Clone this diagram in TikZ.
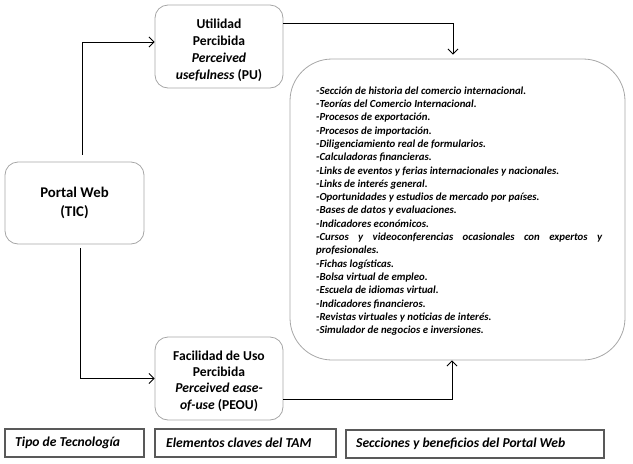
\documentclass[tikz,border=0pt]{standalone}
\usepackage{fontspec}
\setmainfont{Carlito}
\usetikzlibrary{arrows.meta,calc}
\definecolor{softgray}{HTML}{A6A6A6}
\definecolor{darkgray}{HTML}{595959}
\tikzset{
  rbox/.style={draw=softgray, line width=0.8pt, rounded corners=13pt, inner sep=0pt},
  btext/.style={align=center, inner sep=0pt, font=\fontsize{13.6}{17}\selectfont\bfseries},
  lbox/.style={draw=darkgray, line width=1.4pt, inner sep=0pt},
  ltext/.style={anchor=west, inner sep=0pt, font=\fontsize{13.6}{15}\selectfont\bfseries\itshape},
  conn/.style={draw=black, line width=0.9pt},
  arr/.style={conn, -{Straight Barb[length=5pt,width=10pt,line width=0.9pt]}}
}
\begin{document}
\begin{tikzpicture}[x=1pt,y=-1pt]
\useasboundingbox (0,0) rectangle (633,464);
\node[rbox, minimum width=139pt, minimum height=82pt] (portal) at (74.5,203) {};
\node[btext, font=\fontsize{14.8}{18.5}\selectfont\bfseries] (portalt) at (portal.center) {Portal Web\\(TIC)};
\node[rbox, minimum width=128pt, minimum height=83pt] (pu) at (219,46.5) {};
\node[btext] (put) at ([yshift=-3.5pt]pu.center)
  {Utilidad\\Percibida\\\textit{Perceived}\\\textit{usefulness} (PU)};
\node[rbox, minimum width=128pt, minimum height=83pt] (peou) at (219,378.5) {};
\node[btext, font=\fontsize{13.6}{16.3}\selectfont\bfseries] (peout) at ([yshift=-2.5pt]peou.center)
  {Facilidad de Uso\\Percibida\\\textit{Perceived ease-}\\\textit{of-use} (PEOU)};
\node[draw=softgray, line width=0.8pt, rounded corners=42pt, minimum width=335pt, minimum height=301pt, inner sep=0pt] (big) at (457.5,209.5) {};
\node[anchor=north west, inner sep=0pt] (list) at (316,86.5) {\parbox{286pt}{%
\fontsize{10.8}{13.3}\selectfont\bfseries\itshape\parindent=0pt
\hyphenpenalty=10000\exhyphenpenalty=10000
-Sección de historia del comercio internacional.\par
-Teorías del Comercio Internacional.\par
-Procesos de exportación.\par
-Procesos de importación.\par
-Diligenciamiento real de formularios.\par
-Calculadoras financieras.\par
-Links de eventos y ferias internacionales y nacionales.\par
-Links de interés general.\par
-Oportunidades y estudios de mercado por países.\par
-Bases de datos y evaluaciones.\par
-Indicadores económicos.\par
-Cursos y videoconferencias ocasionales con expertos y profesionales.\par
-Fichas logísticas.\par
-Bolsa virtual de empleo.\par
-Escuela de idiomas virtual.\par
-Indicadores financieros.\par
-Revistas virtuales y noticias de interés.\par
-Simulador de negocios e inversiones.\par}};
\node[lbox, minimum width=139pt, minimum height=28pt] (b1) at (74.5,443) {};
\node[ltext] (t1) at (15,443) {Tipo de Tecnología};
\node[lbox, minimum width=181pt, minimum height=28pt] (b2) at (245.5,443) {};
\node[ltext] (t2) at (166,443) {Elementos claves del TAM};
\node[lbox, minimum width=258pt, minimum height=28pt] (b3) at (475,444) {};
\node[ltext] (t3) at (356,444) {Secciones y beneficios del Portal Web};
\draw[arr, shorten <=7pt] ([xshift=7.5pt]portal.north) |- ([yshift=4.5pt]pu.west);
\draw[arr, shorten <=4pt] ([xshift=5.5pt]portal.south) |- (peou.west);
\draw[arr, shorten >=4pt] ([yshift=23.5pt]pu.east) -| ([xshift=-4.5pt]big.north);
\draw[arr] ([yshift=-20.5pt]peou.east) -| ([xshift=-5.5pt]big.south);
\end{tikzpicture}
\end{document}
